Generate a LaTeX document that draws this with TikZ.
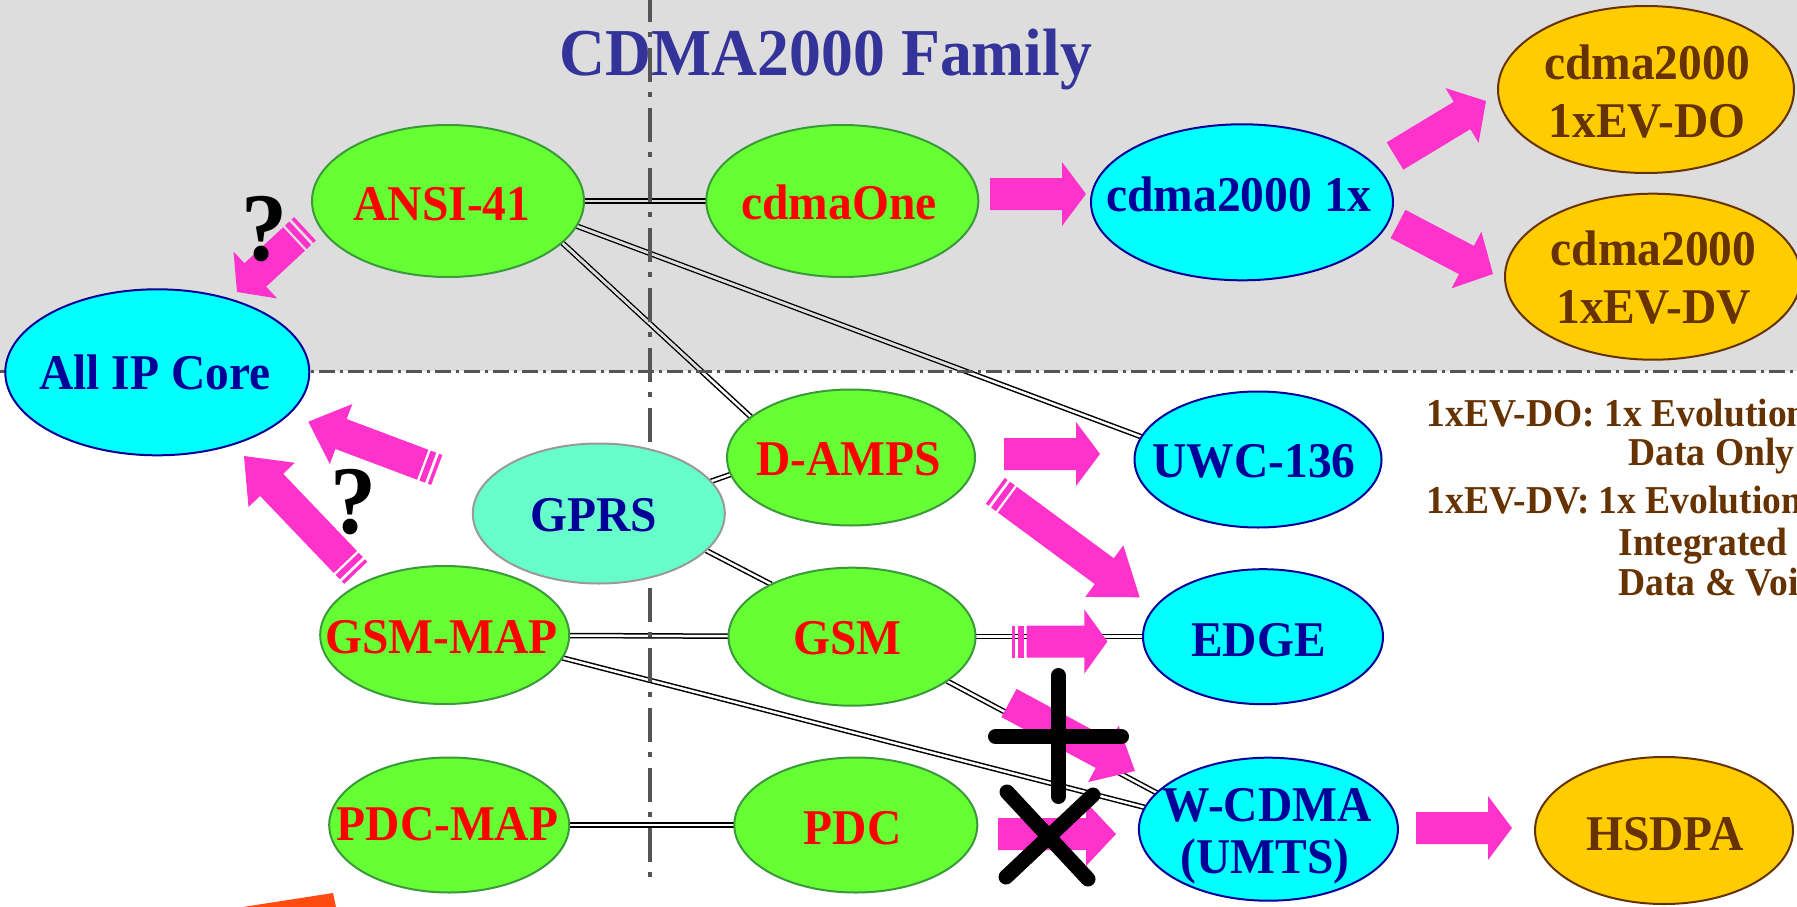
\documentclass[tikz,border=0pt]{standalone}
\usepackage{fontspec}
\setmainfont{Liberation Serif}[FakeStretch=0.95]
\usetikzlibrary{shapes.geometric,calc}
\pgfdeclarelayer{back}
\pgfdeclarelayer{links}
\pgfsetlayers{back,links,main}

\definecolor{bgGray}{HTML}{DDDDDD}
\definecolor{nodeGreen}{HTML}{66FF33}
\definecolor{edgeGreen}{HTML}{3A9A3A}
\definecolor{nodeCyan}{HTML}{00FFFF}
\definecolor{navyBlue}{HTML}{000099}
\definecolor{nodeAqua}{HTML}{66FFCC}
\definecolor{aquaEdge}{HTML}{999999}
\definecolor{nodeGold}{HTML}{FFCC00}
\definecolor{brownText}{HTML}{663300}
\definecolor{arrowPink}{HTML}{FF33CC}
\definecolor{titleBlue}{HTML}{333399}
\definecolor{dashGray}{HTML}{555555}
\definecolor{flame}{HTML}{FF4A10}

\tikzset{
  oval/.style={ellipse, inner sep=0pt, outer sep=0pt, line width=2pt},
  greenOval/.style={oval, fill=nodeGreen, draw=edgeGreen},
  cyanOval/.style={oval, fill=nodeCyan, draw=navyBlue},
  aquaOval/.style={oval, fill=nodeAqua, draw=aquaEdge},
  goldOval/.style={oval, fill=nodeGold, draw=brownText},
  ovalsize/.style 2 args={minimum width=#1, minimum height=#2},
  ovaltext/.style={inner sep=0pt, anchor=base, font=\fontsize{50}{50}\selectfont\bfseries},
  redText/.style={ovaltext, text=red},
  navyText/.style={ovaltext, text=navyBlue},
  brownLbl/.style={ovaltext, text=brownText},
  noteText/.style={inner sep=0pt, anchor=base west, text=brownText,
    font=\fontsize{39.5}{39.5}\selectfont\bfseries},
  qmark/.style={inner sep=0pt, anchor=base, font=\fontsize{97}{97}\selectfont\bfseries},
  duallinkstyle/.style={draw=black, line width=1.5pt, double=white, double distance=2.5pt},
  linkcore/.style={draw=bgGray, line width=2.5pt},
  crossmark/.style={draw=black, line width=15pt, line cap=round},
}

% double connector; its core takes the grey of the upper band
\newcommand\duallink[2]{%
  \draw[duallinkstyle] (#1) -- (#2);
  \begin{scope}
    \clip (0,0) rectangle (1797,371);
    \draw[linkcore] (#1) -- (#2);
  \end{scope}}

% block arrow from tail #1 to tip #2 with head length #3
\newcommand\blockarrow[3]{%
  \coordinate (neck) at ($(#2)!#3!(#1)$);
  \fill[arrowPink] ($(#1)!16pt!90:(#2)$) -- ($(neck)!16pt!90:(#2)$)
    -- ($(neck)!32pt!90:(#2)$) -- (#2) -- ($(neck)!32pt!-90:(#2)$)
    -- ($(neck)!16pt!-90:(#2)$) -- ($(#1)!16pt!-90:(#2)$) -- cycle;}

% two stripes behind the tail of a block arrow
\newcommand\tailstripes[2]{%
  \draw[arrowPink, line width=32pt]
    ($(#1)!2.5pt!180:(#2)$) -- ($(#1)!8.5pt!180:(#2)$)
    ($(#1)!11.5pt!180:(#2)$) -- ($(#1)!15pt!180:(#2)$);}

\begin{document}
\begin{tikzpicture}[x=1pt,y=-1pt]
\useasboundingbox (0,0) rectangle (1797,907);

\begin{pgfonlayer}{back}
  \fill[white] (0,0) rectangle (1797,907);
  \fill[bgGray] (0,0) rectangle (1797,371);
  \node[inner sep=0pt, anchor=base, text=titleBlue,
        font=\fontsize{67}{67}\selectfont\bfseries] (title) at (826,76) {CDMA2000 Family};
\end{pgfonlayer}

% network elements
\node[greenOval, ovalsize={272pt}{152pt}] (ansi) at (448,201) {};
\node[greenOval, ovalsize={272pt}{152pt}] (cdmaone) at (842.3,201) {};
\node[cyanOval, ovalsize={304pt}{166pt}] (allip) at (157.3,372.3) {};
\node[cyanOval, ovalsize={302pt}{156pt}] (c1x) at (1242,202.3) {};
\node[goldOval, ovalsize={296pt}{167pt}] (evdo) at (1646,89.5) {};
\node[goldOval, ovalsize={296pt}{166pt}] (evdv) at (1653,276.7) {};
\node[greenOval, ovalsize={248pt}{136pt}] (damps) at (851,457.5) {};
\node[aquaOval, ovalsize={252pt}{140pt}] (gprs) at (598.8,513.5) {};
\node[cyanOval, ovalsize={247pt}{136pt}] (uwc) at (1258,459.5) {};
\node[greenOval, ovalsize={249pt}{138pt}] (gsmmap) at (444.7,635) {};
\node[greenOval, ovalsize={247pt}{138pt}] (gsm) at (852,636.7) {};
\node[cyanOval, ovalsize={240pt}{135pt}] (edge) at (1263,636.7) {};
\node[cyanOval, ovalsize={259pt}{143pt}] (wcdma) at (1268.4,829.2) {};
\node[goldOval, ovalsize={258pt}{147pt}] (hsdpa) at (1664,830.5) {};
\node[greenOval, ovalsize={240pt}{135pt}] (pdcmap) at (449.2,825) {};
\node[greenOval, ovalsize={243pt}{135pt}] (pdc) at (855.8,825) {};

% names
\node[navyText] (allipT) at (155,389) {All IP Core};
\node[redText] (ansiT) at (442,220) {ANSI-41};
\node[redText] (cdmaoneT) at (839,219) {cdmaOne};
\node[navyText] (c1xT) at (1239,211.7) {cdma2000 1x};
\node[brownLbl] (evdoA) at (1647,79.3) {cdma2000};
\node[brownLbl] (evdoB) at (1647,137.3) {1xEV-DO};
\node[brownLbl] (evdvA) at (1653.5,265) {cdma2000};
\node[brownLbl] (evdvB) at (1653.5,323.3) {1xEV-DV};
\node[redText] (dampsT) at (848.4,475) {D-AMPS};
\node[navyText] (gprsT) at (594,531.7) {GPRS};
\node[navyText] (uwcT) at (1254,477.3) {UWC-136};
\node[redText] (gsmmapT) at (441.7,653.3) {GSM-MAP};
\node[redText] (gsmT) at (847.5,654) {GSM};
\node[navyText] (edgeT) at (1258.4,656) {EDGE};
\node[navyText] (wcdmaA) at (1267,821.7) {W-CDMA};
\node[navyText] (wcdmaB) at (1265,873.3) {(UMTS)};
\node[brownLbl] (hsdpaT) at (1665,850) {HSDPA};
\node[redText] (pdcmapT) at (447.5,840.7) {PDC-MAP};
\node[redText] (pdcT) at (852.5,844) {PDC};

% interconnections and the dash-dot dividers
\begin{pgfonlayer}{links}
  \duallink{ansi}{cdmaone}
  \duallink{ansi.-11}{uwc.169}
  \duallink{ansi.-20}{damps.158}
  \duallink{gprs.16}{damps.188}
  \duallink{gprs.-19}{gsm.147}
  \duallink{gsmmap}{gsm}
  \duallink{gsm}{edge}
  \duallink{gsm.-25}{wcdma.162}
  \duallink{gsmmap.-11}{wcdma.170}
  \duallink{pdcmap}{pdc}
  \draw[dashGray, line width=3pt, dash pattern=on 16pt off 5pt on 3pt off 5pt]
    (0,371) -- (1797,371);
  \draw[dashGray, line width=4pt, dash pattern=on 34pt off 10pt on 5pt off 11pt]
    (650,-11.7) -- (650,877.3);
\end{pgfonlayer}

% evolution arrows
\coordinate (a1t) at (294,239);      \coordinate (a1p) at (237,292);
\coordinate (a2t) at (422.7,464.7);  \coordinate (a2p) at (308.3,421.7);
\coordinate (a3t) at (345.4,562);    \coordinate (a3p) at (244,456);
\coordinate (a4t) at (990,194);      \coordinate (a4p) at (1086,194);
\coordinate (a5t) at (1395,156);     \coordinate (a5p) at (1486,101);
\coordinate (a6t) at (1398,224);     \coordinate (a6p) at (1493,274);
\coordinate (a7t) at (1004,454);     \coordinate (a7p) at (1100,454);
\coordinate (a8t) at (1007.4,499.7); \coordinate (a8p) at (1139.7,597.3);
\coordinate (a9t) at (1026.7,641.5); \coordinate (a9p) at (1107.4,641.5);
\coordinate (a10t) at (1009,703);    \coordinate (a10p) at (1135,771);
\coordinate (a11t) at (998,834);     \coordinate (a11p) at (1116,834);
\coordinate (a12t) at (1416,828);    \coordinate (a12p) at (1512,828);

\blockarrow{a1t}{a1p}{25pt}   \tailstripes{a1t}{a1p}
\blockarrow{a2t}{a2p}{35pt}   \tailstripes{a2t}{a2p}
\blockarrow{a3t}{a3p}{40pt}   \tailstripes{a3t}{a3p}
\blockarrow{a4t}{a4p}{24pt}
\blockarrow{a5t}{a5p}{28pt}
\blockarrow{a6t}{a6p}{30pt}
\blockarrow{a7t}{a7p}{24pt}
\blockarrow{a8t}{a8p}{44pt}   \tailstripes{a8t}{a8p}
\blockarrow{a9t}{a9p}{23pt}   \tailstripes{a9t}{a9p}
\blockarrow{a10t}{a10p}{36pt}
\blockarrow{a11t}{a11p}{30pt}
\blockarrow{a12t}{a12p}{24pt}

% question marks
\node[qmark] (q1) at (265,260) {?};
\node[qmark] (q2) at (354,533) {?};

% plus and cross marks over the GSM and PDC paths
\draw[crossmark] (1058.4,675.5) -- (1058.4,796.5);
\draw[crossmark] (995.5,736.7) -- (1121.5,736.7);
\draw[crossmark] (1007,792) -- (1088,879);
\draw[crossmark] (1093,795) -- (1006,877);

% legend, cut at the right edge
\begin{scope}
  \clip (0,0) rectangle (1797,907);
  \node[noteText] (noteA) at (1426.7,426) {1xEV-DO: 1x Evolution};
  \node[noteText] (noteB) at (1628.3,465) {Data Only};
  \node[noteText] (noteC) at (1426.7,513.3) {1xEV-DV: 1x Evolution};
  \node[noteText] (noteD) at (1618.3,555) {Integrated};
  \node[noteText] (noteE) at (1618.3,595) {Data \& Voice};
  % fragment of a shape at the lower edge
  \fill[flame] (243,907) -- (333,893) -- (336,907) -- cycle;
\end{scope}
\end{tikzpicture}
\end{document}
